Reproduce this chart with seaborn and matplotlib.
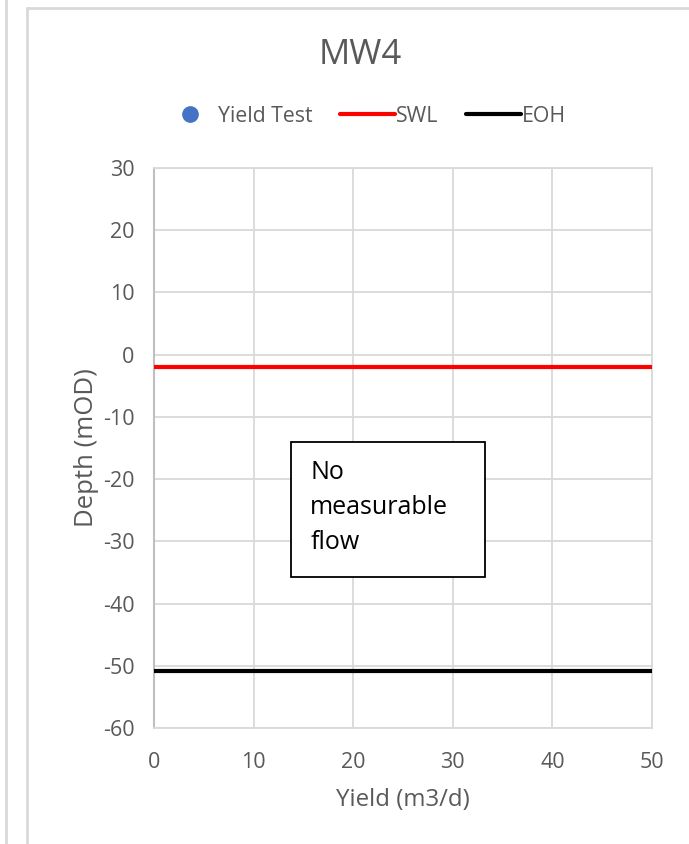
import matplotlib
matplotlib.use("Agg")
import matplotlib.pyplot as plt
from matplotlib.lines import Line2D
from matplotlib.patches import Rectangle
import seaborn as sns
import pandas as pd

# Well MW4 data
title = "MW4"
x_range = [0, 50]          # yield axis extent (m3/d)
swl_depth = [-2, -2]       # static water level (mOD)
eoh_depth = [-50.85, -50.85]  # end of hole (mOD)
yield_test_x = []          # no measurable flow
yield_test_y = []
x_ticks = [0, 10, 20, 30, 40, 50]
y_ticks = [30, 20, 10, 0, -10, -20, -30, -40, -50, -60]
note = "No\nmeasurable\nflow"

sns.set_theme(style="white")
plt.rcParams["font.family"] = ["Open Sans", "DejaVu Sans"]
plt.rcParams["axes.unicode_minus"] = False

TEXT = "#595959"
GRID = "#d9d9d9"

fig = plt.figure(figsize=(6.89, 8.44), dpi=100)
ax = fig.add_axes([154 / 689, 1 - 728 / 844, (652 - 154) / 689, (728 - 168) / 844])

swl = pd.DataFrame({"x": x_range, "y": swl_depth})
eoh = pd.DataFrame({"x": x_range, "y": eoh_depth})
sns.lineplot(data=swl, x="x", y="y", color="#ff0000", linewidth=3, ax=ax, zorder=3)
sns.lineplot(data=eoh, x="x", y="y", color="#000000", linewidth=3, ax=ax, zorder=3)
ax.scatter(yield_test_x, yield_test_y, color="#4472c4", s=80, zorder=4)

ax.set_xlim(0, 50)
ax.set_ylim(-60, 30)
ax.set_xticks(x_ticks)
ax.set_yticks(y_ticks)
ax.grid(True, color=GRID, linewidth=1.3)
ax.set_axisbelow(True)
for side in ["top", "right", "bottom"]:
    ax.spines[side].set_color(GRID)
    ax.spines[side].set_linewidth(1.3)
ax.spines["left"].set_color("#bfbfbf")
ax.spines["left"].set_linewidth(1.5)
ax.tick_params(axis="both", length=0, labelsize=15.5, colors=TEXT)
ax.tick_params(axis="y", pad=14)
ax.tick_params(axis="x", pad=17)

ax.set_xlabel("Yield (m3/d)", fontsize=17.3, color=TEXT, labelpad=11)
ax.set_ylabel("Depth (mOD)", fontsize=18.5, color=TEXT, labelpad=3)

# annotation box
ax.add_patch(Rectangle((13.75, -35.7), 19.45, 21.6, facecolor="white",
                       edgecolor="black", linewidth=1.3, zorder=5))
ax.text(15.7, -16.9, note, ha="left", va="top", fontsize=18, color="black",
        linespacing=1.52, zorder=6)

fig.text(360 / 689, 1 - 55 / 844, title, ha="center", va="center",
         fontsize=25, color=TEXT)

handles = [
    Line2D([], [], linestyle="none", marker="o", markersize=11,
           markerfacecolor="#4472c4", markeredgecolor="#4472c4"),
    Line2D([], [], color="#ff0000", linewidth=3),
    Line2D([], [], color="#000000", linewidth=3),
]
fig.legend(handles, ["Yield Test", "SWL", "EOH"], loc="center",
           bbox_to_anchor=(364 / 689, 1 - 116 / 844), ncol=3, frameon=False,
           fontsize=15.3, labelcolor=TEXT, handlelength=2.6, handletextpad=0.02,
           columnspacing=1.3)

# chart frame edges
frame_kw = dict(color=GRID, linewidth=2, transform=fig.transFigure)
fig.add_artist(Line2D([6 / 689, 6 / 689], [0, 1], **frame_kw))
fig.add_artist(Line2D([27 / 689, 27 / 689], [0, 1 - 7.5 / 844], **frame_kw))
fig.add_artist(Line2D([27 / 689, 1], [1 - 7.5 / 844, 1 - 7.5 / 844], **frame_kw))

fig.savefig("out.png", dpi=100)
